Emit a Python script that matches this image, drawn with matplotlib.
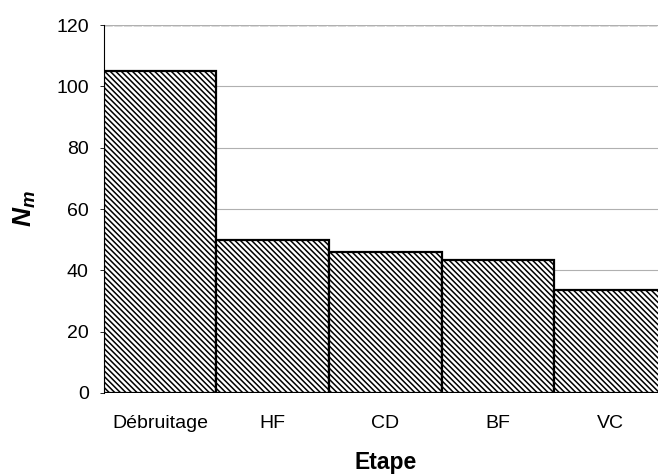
import numpy as np
import matplotlib
matplotlib.use("Agg")
from matplotlib import pyplot as plt

plt.rcParams['font.family'] = ['Liberation Sans', 'DejaVu Sans']
plt.rcParams['hatch.linewidth'] = 1.1
# bold italic math letters for the axis symbol
plt.rcParams['mathtext.fontset'] = 'custom'
plt.rcParams['mathtext.it'] = 'Liberation Sans:bold:italic'
plt.rcParams['mathtext.rm'] = 'Liberation Sans:bold'

# number of modes per processing step
etapes = ['Débruitage', 'HF', 'CD', 'BF', 'VC']
n_modes = [105, 50, 46, 43.5, 33.5]

fig = plt.figure(figsize=(6.58, 4.75), dpi=100)
# the last bar runs slightly past the right edge of the figure
ax = fig.add_axes([0.158, 0.173, 0.855, 0.774])

x = np.arange(len(etapes))
ax.bar(x, n_modes, width=1.0, color='white', edgecolor='black',
       linewidth=1.6, hatch='\\' * 6, zorder=3)

ax.set_xlim(-0.5, len(etapes) - 0.5)
ax.set_ylim(0, 120)
ax.set_yticks(np.arange(0, 121, 20))
ax.set_xticks(x)
ax.set_xticklabels(etapes)

ax.yaxis.grid(True, color='#b0b0b0', linewidth=0.8, zorder=0)
ax.axhline(120, color='#555555', linewidth=1.0, linestyle=(0, (6, 1)), zorder=1)
for side in ['top', 'right', 'bottom']:
    ax.spines[side].set_visible(False)
ax.spines['left'].set_linewidth(0.8)

ax.tick_params(axis='y', labelsize=14, length=3, width=0.6, pad=8)
ax.tick_params(axis='x', labelsize=14, length=0, pad=16)

ax.set_xlabel('Etape', fontsize=16.5, fontweight='bold', labelpad=14)
ax.set_ylabel('$N_m$', fontsize=19, labelpad=13)

fig.savefig('out.png', dpi=100)
